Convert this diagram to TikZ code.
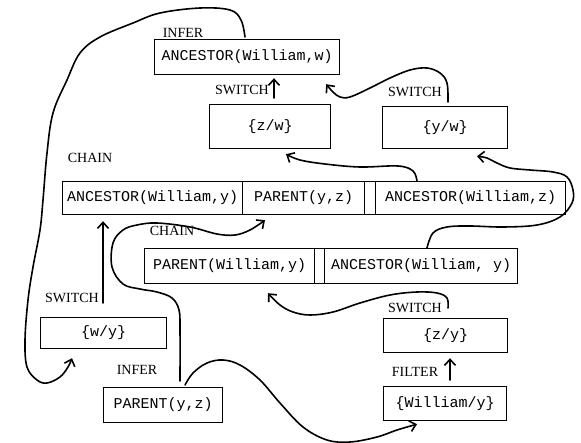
\documentclass[tikz,border=0pt]{standalone}
\usepackage{fontspec}
\newfontfamily\boxfont{Liberation Mono}
\newfontfamily\labfont{Liberation Serif}
\usetikzlibrary{arrows.meta}
\begin{document}
\begin{tikzpicture}[x=1pt,y=-1pt,
  cell/.style={draw, line width=1.2pt, rectangle, inner sep=0pt, anchor=north west,
    font=\boxfont\fontsize{15}{15}\selectfont},
  lab/.style={inner sep=0pt, font=\labfont\fontsize{14}{14}\selectfont},
  conn/.style={line width=1.6pt, line cap=round, line join=round},
  arr/.style={-{Straight Barb[length=6pt,width=11pt]}}]
\fill[white] (0,0) rectangle (581,442);
\useasboundingbox (0,0) rectangle (581,442);
% boxes
\node[cell, minimum width=185pt, minimum height=35pt] (b1) at (154,39) {ANCESTOR(William,w)};
\node[cell, minimum width=121pt, minimum height=44pt] (zw) at (209,104) {\{z/w\}};
\node[cell, minimum width=125pt, minimum height=42pt] (yw) at (382,106) {\{y/w\}};
\node[cell, minimum width=180pt, minimum height=33pt] (r1a) at (62,181) {ANCESTOR(William,y)};
\node[cell, minimum width=122pt, minimum height=33pt] (r1b) at (242,181) {PARENT(y,z)};
\node[cell, minimum width=11pt, minimum height=33pt] (r1g) at (364,181) {};
\node[cell, minimum width=190pt, minimum height=33pt] (r1c) at (375,181) {ANCESTOR(William,z)};
\node[cell, minimum width=170pt, minimum height=35pt] (r2a) at (144,248) {PARENT(William,y)};
\node[cell, minimum width=10pt, minimum height=35pt] (r2g) at (314,248) {};
\node[cell, minimum width=193pt, minimum height=35pt] (r2b) at (324,248) {ANCESTOR(William, y)};
\node[cell, minimum width=126pt, minimum height=31pt] (wy) at (40,317) {\{w/y\}};
\node[cell, minimum width=119pt, minimum height=35pt] (pyz) at (103,387) {PARENT(y,z)};
\node[cell, minimum width=124pt, minimum height=34pt] (zy) at (383,318) {\{z/y\}};
\node[cell, minimum width=123pt, minimum height=34pt] (wily) at (383,386) {\{William/y\}\hspace{14pt}};
% labels
\node[lab] (l1) at (183,33) {INFER};
\node[lab] (l2) at (242,90) {SWITCH};
\node[lab] (l3) at (415,92) {SWITCH};
\node[lab] (l4) at (90,158) {CHAIN};
\node[lab] (l5) at (172,231) {CHAIN};
\node[lab] (l6) at (72,298) {SWITCH};
\node[lab] (l7) at (137,370) {INFER};
\node[lab] (l8) at (415,308) {SWITCH};
\node[lab] (l9) at (415,372) {FILTER};
% connectors
\draw[conn,arr] plot[smooth,tension=0.6] coordinates {([xshift=91pt,yshift=2pt]b1.north west) (241,20) (230,10) (200,8) (160,13) (133,23) (100,37) (80,53) (67,80) (53,113) (47,153) (43,200) (40,230) (33,267) (28,300) (25,340) (27,367) (37,380) (47,383) (60,377) (68,367) ([xshift=32pt,yshift=-9pt]wy.south west)};
\draw[conn,arr] ([xshift=63pt,yshift=14pt]wy.north west) -- ([xshift=41pt,yshift=-6pt]r1a.south west);
\draw[conn,arr] plot[smooth,tension=0.6] coordinates {([xshift=77pt,yshift=6pt]pyz.north west) (180,330) (179,310) (172,298) (157,292) (140,289) (123,284) (112,267) (113,243) (123,230) (137,225) (157,223) (190,227) (217,234) (235,235) (250,230) ([xshift=23pt,yshift=-5pt]r1b.south west)};
\draw[conn,arr] plot[smooth,tension=0.6] coordinates {([xshift=42pt]r1c.north west) (413,171) (398,166) (360,167) (325,164) (300,160) ([xshift=77pt,yshift=-5pt]zw.south west)};
\draw[conn,arr] plot[smooth,tension=0.6] coordinates {([xshift=103pt]r2b.north west) (433,233) (447,227) (470,226) (503,227) (537,225) (560,217) (572,203) (573,190) (567,177) (553,172) (530,170) (510,168) (497,163) (487,158) ([xshift=95pt,yshift=-7pt]yw.south west)};
\draw[conn,arr] plot[smooth,tension=0.6] coordinates {([xshift=65pt,yshift=10pt]zy.north west) (447,298) (437,293) (417,292) (390,295) (360,303) (333,312) (310,315) (293,312) (280,305) ([xshift=124pt,yshift=-9pt]r2a.south west)};
\draw[conn,arr] plot[smooth,tension=0.6] coordinates {([xshift=82pt,yshift=2pt]pyz.north west) (193,373) (207,363) (223,360) (240,365) (260,380) (280,403) (303,427) (327,440) (350,442) (377,437) (397,430) ([xshift=34pt,yshift=-3pt]wily.south west)};
\draw[conn,arr] plot[smooth,tension=0.6] coordinates {([xshift=66pt,yshift=4pt]yw.north west) (447,83) (440,73) (427,68) (410,70) (390,78) (370,88) (350,97) (340,97) (333,92) ([xshift=-14pt,yshift=-9pt]b1.south east)};
\draw[conn,arr] ([xshift=65pt,yshift=6pt]zw.north west) -- ([xshift=120pt,yshift=-3pt]b1.south west);
\draw[conn,arr] ([xshift=67pt,yshift=6pt]wily.north west) -- ([xshift=67pt,yshift=-5pt]zy.south west);
\end{tikzpicture}
\end{document}
